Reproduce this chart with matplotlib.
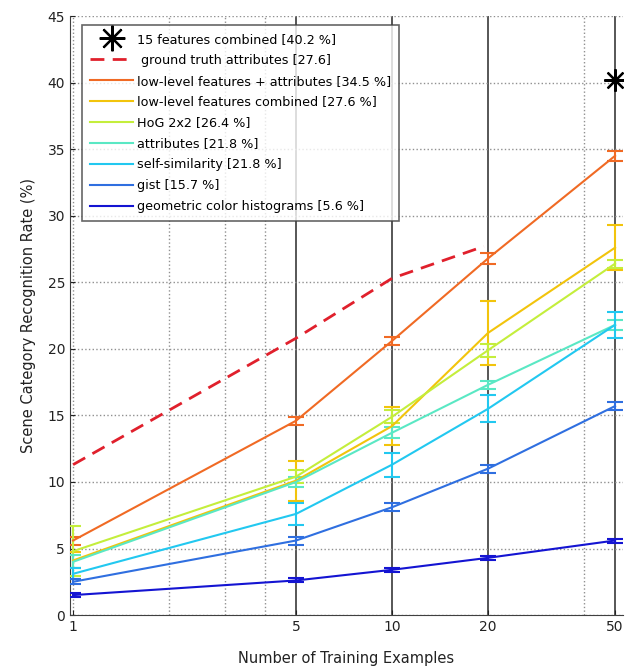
import numpy as np
import matplotlib
matplotlib.use("Agg")
import matplotlib.pyplot as plt

x = [1, 5, 10, 20, 50]
x_gt = [1, 5, 10, 19.4]
x_dotted = [1, 2, 3, 4, 40]

labels = ["low-level features + attributes [34.5 %]",
          "low-level features combined [27.6 %]",
          "HoG 2x2 [26.4 %]",
          "attributes [21.8 %]",
          "self-similarity [21.8 %]",
          "gist [15.7 %]",
          "geometric color histograms [5.6 %]"]
values = [[5.6, 14.6, 20.6, 26.8, 34.5],
          [4.1, 10.1, 14.2, 21.2, 27.6],
          [4.8, 10.4, 14.9, 19.9, 26.4],
          [4.0, 10.0, 13.7, 17.3, 21.8],
          [3.1, 7.6, 11.3, 15.5, 21.8],
          [2.5, 5.6, 8.1, 11.0, 15.7],
          [1.5, 2.6, 3.4, 4.3, 5.6]]
errors = [[0.3, 0.3, 0.3, 0.4, 0.4],
          [0.6, 1.5, 1.4, 2.4, 1.7],
          [1.9, 0.5, 0.5, 0.5, 0.3],
          [0.5, 0.4, 0.4, 0.3, 0.4],
          [0.4, 0.8, 0.9, 1.0, 1.0],
          [0.2, 0.3, 0.3, 0.3, 0.3],
          [0.15, 0.15, 0.15, 0.15, 0.15]]
colors = ["#f06a24", "#f2c40c", "#c4ee3c", "#5ae8c4",
          "#22c8f0", "#2f6fe0", "#1414d2"]

gt_values = [11.3, 20.8, 25.3, 27.7]
gt_label = " ground truth attributes [27.6]"
combined_value = 40.2
combined_label = "15 features combined [40.2 %]"

fig = plt.figure(figsize=(6.25, 6.70), dpi=100)
ax = fig.add_axes([0.112, 0.082, 0.885, 0.894])

ax.set_xscale("log")
ax.set_xlim(0.978, 53)
ax.set_ylim(0, 45)

# dotted grid like matlab
ax.grid(True, which="major", axis="y", linestyle=":", color="#909090", lw=1)
for xv in x_dotted:
    ax.axvline(xv, color="#909090", lw=1, linestyle=":", zorder=0)
for xv in [5, 10, 20, 50]:
    ax.axvline(xv, color="#3a3a3a", lw=1.2, zorder=1)

h_star, = ax.plot([50], [combined_value], linestyle="none", marker=(8, 2, 0),
                  markersize=16, color="black", mew=1.6, zorder=5)
h_gt, = ax.plot(x_gt, gt_values, "--", color="#e0202c", lw=2, dashes=(5, 3), zorder=4)

handles = [h_star, h_gt]
for vals, err, col in zip(values, errors, colors):
    eb = ax.errorbar(x, vals, yerr=err, color=col, lw=1.5, capsize=6,
                     capthick=1.5, elinewidth=1.5, zorder=3)
    handles.append(eb.lines[0])

leg = ax.legend(handles, [combined_label, gt_label] + labels, loc="upper left",
                bbox_to_anchor=(0.022, 0.985), borderaxespad=0, fontsize=9.2,
                frameon=True, fancybox=False, edgecolor="#404040",
                handlelength=3.4, labelspacing=0.62, borderpad=0.6,
                handletextpad=0.3, markerscale=1.15)
leg.get_frame().set_linewidth(1.2)

ax.set_xticks(x)
ax.set_xticklabels([str(v) for v in x])
ax.xaxis.set_minor_locator(matplotlib.ticker.NullLocator())
ax.set_yticks(np.arange(0, 46, 5))
ax.tick_params(direction="in", labelsize=10, colors="#222222")
ax.spines["top"].set_visible(False)
ax.spines["right"].set_visible(False)
ax.spines["left"].set_color("#404040")
ax.spines["bottom"].set_color("#404040")

ax.set_xlabel("Number of Training Examples", fontsize=10.5, labelpad=12, color="#222222")
ax.set_ylabel("Scene Category Recognition Rate (%)", fontsize=10.5, labelpad=8, color="#222222")

fig.savefig("out.png", dpi=100)
